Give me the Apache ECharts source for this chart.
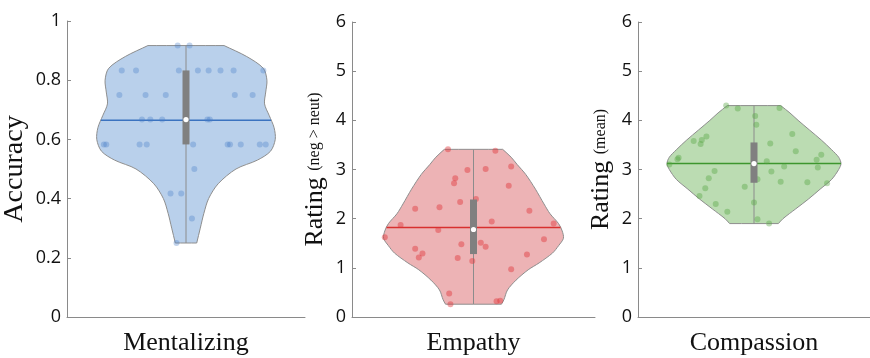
<!DOCTYPE html>
<html>
<head>
<meta charset="utf-8">
<script src="https://cdn.jsdelivr.net/npm/echarts@6/dist/echarts.min.js"></script>
<style>
  html, body { margin: 0; padding: 0; background: #ffffff; }
  #chart { width: 870px; height: 358px; }
</style>
</head>
<body>
<div id="chart"></div>
<script>
// ---- categories and axis ticks ----
const categories = ['Mentalizing', 'Empathy', 'Compassion'];
const yMin = [0, 0, 0];
const yMax = [1, 6, 6];
const yStep = [0.2, 1, 1];

// ---- individual participants: value and horizontal jitter ----
const mentalizingValues = [0.917, 0.917,
  0.833, 0.833, 0.833, 0.833, 0.833, 0.833, 0.833, 0.833,
  0.75, 0.75, 0.75, 0.75, 0.75,
  0.667, 0.667, 0.667, 0.667, 0.667,
  0.583, 0.583, 0.583, 0.583, 0.583, 0.583, 0.583, 0.583, 0.583, 0.583,
  0.5, 0.417, 0.417, 0.333, 0.25];
const mentalizingJitter = [-0.07, 0.03,
  -0.54, -0.42, -0.06, 0.10, 0.19, 0.29, 0.40, 0.65,
  -0.56, -0.34, -0.17, 0.41, 0.56,
  -0.37, -0.30, -0.20, 0.18, 0.20,
  -0.69, -0.67, -0.39, -0.33, 0.06, 0.35, 0.37, 0.46, 0.62, 0.67,
  0.07, -0.13, -0.04, 0.05, -0.08];

const empathyValues = [3.41, 3.38, 2.99, 3.01, 3.06, 2.82, 2.72, 2.67, 2.34, 2.40,
  2.20, 2.23, 2.16, 1.94, 1.87, 1.90, 1.77, 1.62, 1.58, 1.48,
  1.51, 1.43, 1.39, 1.29, 1.21, 1.20, 1.14, 1.27, 0.97, 0.48,
  0.26, 0.32, 0.33];
const empathyJitter = [-0.21, 0.18, -0.05, 0.10, 0.31, -0.15, -0.16, 0.29, -0.11, 0.02,
  -0.48, -0.28, 0.46, 0.15, -0.60, 0.66, -0.29, -0.73, 0.58, -0.10,
  0.06, 0.10, -0.48, -0.42, -0.45, -0.13, -0.01, 0.44, 0.31, -0.20,
  -0.19, 0.19, 0.22];

const compassionValues = [4.30, 4.24, 4.25, 4.09, 3.91, 3.72, 3.58, 3.60, 3.52, 3.67,
  3.53, 3.37, 3.24, 3.21, 3.10, 3.17, 3.06, 3.30, 3.20, 3.04,
  2.97, 2.82, 2.96, 2.80, 2.65, 2.62, 2.75, 2.74, 2.72, 2.46,
  2.30, 2.33, 2.14, 1.99, 1.90];
const compassionJitter = [-0.24, -0.14, 0.22, 0.01, 0.02, 0.33, -0.52, -0.45, -0.46, -0.41,
  0.14, 0.36, -0.65, -0.66, -0.73, 0.11, 0.26, 0.58, 0.54, 0.55,
  -0.34, -0.39, 0.15, 0.03, -0.08, -0.42, 0.23, 0.46, 0.63, -0.47,
  -0.33, 0.00, -0.23, 0.03, 0.13];

// ---- density outlines (half-width at each level) ----
const mentalizingDensityY = [0.25, 0.30, 0.35, 0.40, 0.45, 0.50, 0.53, 0.56, 0.60, 0.64, 0.68, 0.72, 0.76, 0.80, 0.84, 0.88, 0.917];
const mentalizingDensityW = [0.09, 0.12, 0.15, 0.19, 0.27, 0.42, 0.60, 0.71, 0.75, 0.74, 0.70, 0.66, 0.67, 0.68, 0.65, 0.51, 0.32];

const empathyDensityY = [0.26, 0.35, 0.55, 0.75, 0.96, 1.10, 1.30, 1.45, 1.60, 1.75, 1.90, 2.10, 2.30, 2.60, 2.90, 3.10, 3.25, 3.41];
const empathyDensityW = [0.23, 0.25, 0.28, 0.35, 0.45, 0.54, 0.65, 0.70, 0.74, 0.73, 0.70, 0.63, 0.58, 0.51, 0.43, 0.36, 0.31, 0.24];

const compassionDensityY = [1.90, 2.00, 2.20, 2.40, 2.60, 2.80, 3.00, 3.12, 3.25, 3.40, 3.60, 3.80, 4.00, 4.15, 4.30];
const compassionDensityW = [0.21, 0.25, 0.36, 0.47, 0.57, 0.67, 0.73, 0.75, 0.73, 0.67, 0.58, 0.48, 0.38, 0.31, 0.23];

// ---- summary statistics ----
const meanValues = [0.665, 1.82, 3.12];
const medianValues = [0.667, 1.78, 3.12];
const q1Values = [0.583, 1.28, 2.73];
const q3Values = [0.833, 2.39, 3.55];

// ---- drawing ----
const panels = [
  { values: mentalizingValues, jitter: mentalizingJitter, dy: mentalizingDensityY, dw: mentalizingDensityW,
    fill: '#b9d0eb', dot: 'rgba(70,125,200,0.42)', line: '#3b73c0',
    grid: { left: 67, top: 21, width: 238, height: 296 },
    name: 'Accuracy', nameSize: 28, nameGap: 38 },
  { values: empathyValues, jitter: empathyJitter, dy: empathyDensityY, dw: empathyDensityW,
    fill: '#edb3b5', dot: 'rgba(222,52,58,0.55)', line: '#d8302f',
    grid: { left: 352, top: 22, width: 243, height: 295 },
    name: '{a|Rating} {b|(neg > neut)}', nameSize: 26, nameGap: 24 },
  { values: compassionValues, jitter: compassionJitter, dy: compassionDensityY, dw: compassionDensityW,
    fill: '#bbdcb2', dot: 'rgba(85,165,65,0.5)', line: '#3d962e',
    grid: { left: 638, top: 22, width: 240, height: 295 },
    name: '{a|Rating} {b|(mean)}', nameSize: 26, nameGap: 24 }
];

function widthAt(ys, ws, y) {
  for (let i = 0; i < ys.length - 1; i++) {
    if (y >= ys[i] && y <= ys[i + 1]) {
      const t = (y - ys[i]) / (ys[i + 1] - ys[i]);
      return ws[i] + t * (ws[i + 1] - ws[i]);
    }
  }
  return 0;
}

function violinBody(p, k) {
  return function (params, api) {
    const n = p.dy.length;
    const right = p.dy.map((y, i) => api.coord([p.dw[i], y]));
    const left = p.dy.map((y, i) => api.coord([-p.dw[i], y])).reverse();
    // repeat the end points so the flat top and bottom stay straight
    const pts = [right[0]].concat(right, [right[n - 1]], [left[0]], left, [left[n - 1]]);
    const vmin = Math.min.apply(null, p.values);
    const vmax = Math.max.apply(null, p.values);
    const lo = api.coord([0, vmin]);
    const hi = api.coord([0, vmax]);
    const mw = widthAt(p.dy, p.dw, meanValues[k]);
    const ma = api.coord([-mw, meanValues[k]]);
    const mb = api.coord([mw, meanValues[k]]);
    return {
      type: 'group',
      children: [
        { type: 'polygon', shape: { points: pts, smooth: 0.3 },
          style: { fill: p.fill, stroke: '#8e8e8e', lineWidth: 1 } },
        { type: 'line', shape: { x1: lo[0], y1: lo[1], x2: hi[0], y2: hi[1] },
          style: { stroke: '#8c8c8c', lineWidth: 1 } },
        { type: 'line', shape: { x1: ma[0], y1: ma[1], x2: mb[0], y2: mb[1] },
          style: { stroke: p.line, lineWidth: 1.5 } }
      ]
    };
  };
}

function boxAndMedian(k) {
  return function (params, api) {
    const top = api.coord([0, q3Values[k]]);
    const bot = api.coord([0, q1Values[k]]);
    const med = api.coord([0, medianValues[k]]);
    return {
      type: 'group',
      children: [
        { type: 'rect', shape: { x: top[0] - 3.5, y: top[1], width: 7, height: bot[1] - top[1] },
          style: { fill: '#808080' } },
        { type: 'circle', shape: { cx: med[0], cy: med[1], r: 2.6 },
          style: { fill: '#ffffff' } }
      ]
    };
  };
}

const grids = [], xAxes = [], yAxes = [], series = [];
const axisGray = '#8a8a8a';

panels.forEach((p, k) => {
  grids.push(Object.assign({ containLabel: false }, p.grid));
  // visible category axis
  xAxes.push({
    type: 'category', gridIndex: k, data: [categories[k]], position: 'bottom',
    axisLine: { onZero: false, lineStyle: { color: axisGray, width: 1 } },
    axisTick: { inside: true, length: 4, alignWithLabel: true, lineStyle: { color: axisGray } },
    axisLabel: { margin: 13, color: '#111', fontFamily: 'Liberation Serif', fontSize: 26 },
    splitLine: { show: false }
  });
  // hidden value axis used for the violin width and jitter
  xAxes.push({
    type: 'value', gridIndex: k, min: -1, max: 1, show: false,
    axisLine: { onZero: false }
  });
  yAxes.push({
    type: 'value', gridIndex: k, min: yMin[k], max: yMax[k], interval: yStep[k],
    position: 'left',
    name: p.name, nameLocation: 'middle', nameGap: p.nameGap,
    nameTextStyle: {
      color: '#111', fontFamily: 'Liberation Serif', fontSize: p.nameSize,
      rich: {
        a: { fontFamily: 'Liberation Serif', fontSize: 26, color: '#111' },
        b: { fontFamily: 'Liberation Serif', fontSize: 16, color: '#111' }
      }
    },
    axisLine: { show: true, onZero: false, lineStyle: { color: axisGray, width: 1 } },
    axisTick: { show: true, inside: true, length: 4, lineStyle: { color: axisGray } },
    axisLabel: { margin: 6, color: '#111', fontFamily: 'Open Sans', fontSize: 18 },
    splitLine: { show: false }
  });
  const xv = 2 * k + 1;
  series.push({
    type: 'custom', xAxisIndex: xv, yAxisIndex: k, data: [[0, 0]],
    renderItem: violinBody(p, k), silent: true, z: 2
  });
  series.push({
    type: 'scatter', xAxisIndex: xv, yAxisIndex: k,
    data: p.values.map((v, i) => [p.jitter[i], v]),
    symbolSize: 6, itemStyle: { color: p.dot }, silent: true, z: 3
  });
  series.push({
    type: 'custom', xAxisIndex: xv, yAxisIndex: k, data: [[0, 0]],
    renderItem: boxAndMedian(k), silent: true, z: 4
  });
});

const chart = echarts.init(document.getElementById('chart'), null, { renderer: 'canvas' });
chart.setOption({
  animation: false,
  backgroundColor: '#ffffff',
  grid: grids,
  xAxis: xAxes,
  yAxis: yAxes,
  series: series
});
</script>
</body>
</html>
